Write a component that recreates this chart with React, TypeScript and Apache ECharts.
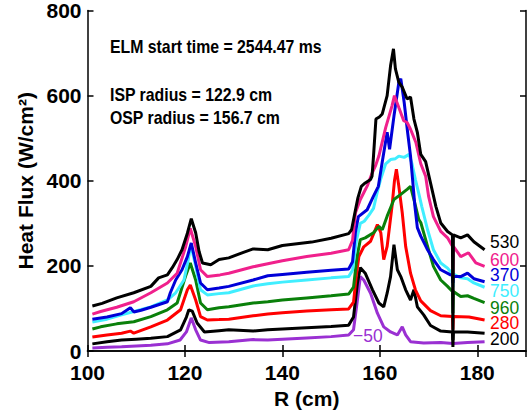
import React, { useEffect, useRef } from "react";
import * as echarts from "echarts";

const FONT = '"Liberation Sans", Arial, sans-serif';

const xTicks = [100, 120, 140, 160, 180];
const yTicks = [0, 200, 400, 600, 800];

const seriesNames = ["530", "600", "370", "750", "960", "280", "200", "−50"];
const seriesColors = ["#000000", "#f0208c", "#0000d8", "#40eeff", "#0a800a", "#ff0000", "#000000", "#9a30d2"];

const s530 = [[101,106],[103,112],[106,125],[109.5,137],[113,152],[114.6,172],[116.4,179],[117.4,196],[118.4,215],[119.4,238],[120.5,277],[121.3,311],[122.2,278],[122.9,234],[123.6,207],[125.3,203],[127,215],[129,219],[132,232],[134,240],[137,238],[140,248],[143,252],[146,256],[150,265],[153.6,276],[154.2,285],[154.8,320],[155.5,360],[156.2,387],[157,395],[158.1,403],[158.4,411],[158.7,458],[159.2,545],[159.9,550],[160.5,557],[161.5,600],[162.2,670],[162.8,710],[163.2,663],[163.9,631],[164.6,620],[165.6,592],[166.3,597],[167,545],[167.7,514],[168.4,462],[169.4,445],[170.4,395],[171.5,340],[172.5,301],[173.9,281],[174.9,273],[175,26],[175.1,273],[176.6,266],[178,273],[179.3,257],[181.5,238]];
const s600 = [[101,87],[102.7,93],[106,103],[109.5,116],[113,137],[116.4,160],[118.4,183],[120.1,243],[121.1,288],[122.2,246],[123.2,191],[124.6,175],[127.2,179],[129,183],[134,198],[137,205],[140,212],[145,222],[150,230],[153.6,238],[154.4,260],[155,325],[156,356],[156.7,372],[157.5,390],[158.3,415],[159.1,435],[159.8,458],[161.2,525],[162.5,576],[163,600],[163.9,572],[164.9,541],[165.6,537],[166.3,521],[167.4,490],[168.4,440],[169.4,411],[170,364],[171,316],[172.5,281],[173.9,266],[174.9,246],[175,175],[175.1,246],[176.6,222],[178.2,231],[179.7,207],[181.5,199]];
const s370 = [[101,75],[104,80],[107,88],[108.8,102],[109.5,92],[111,96],[113,103],[116.4,116],[117,137],[118.1,167],[119.4,191],[120.5,222],[121.3,254],[122.2,207],[123.2,160],[124.6,144],[127,148],[129,152],[134,167],[137,177],[140,180],[145,185],[150,190],[153.6,193],[154.4,210],[155,280],[155.6,316],[157.4,332],[158.7,364],[159.7,387],[160.5,445],[161.5,514],[162,474],[162.9,552],[163.9,631],[164.3,640],[165,584],[165.7,514],[166.3,458],[166.6,419],[167.2,340],[167.7,290],[168.4,270],[169.7,240],[171,215],[172.5,191],[174.5,179],[174.9,178],[175,160],[175.1,176],[176.6,175],[178,183],[179.3,170],[181.5,163]];
const s750 = [[101,68],[104,75],[107,85],[109.5,93],[113,104],[116.4,120],[118.1,137],[119.8,167],[120.6,210],[121.2,250],[122.2,200],[123.2,144],[124.6,132],[127,135],[129,137],[134,153],[137,158],[140,162],[145,167],[150,172],[153.6,175],[154.4,190],[155.2,260],[156,300],[156.8,305],[157.8,320],[158.7,335],[159.4,370],[160.2,405],[161.2,440],[162.2,450],[163.2,452],[163.9,458],[165,455],[166,462],[166.6,440],[167.3,403],[168,370],[168.6,340],[169.8,285],[171,238],[172.5,207],[173.9,195],[174.9,181],[175,150],[175.1,181],[176.6,172],[178,170],[179.3,160],[181.5,150]];
const s960 = [[101,52],[102.7,57],[106,64],[109.5,69],[113,81],[116.4,97],[118.4,113],[120.1,175],[121.1,207],[122.2,167],[123.2,113],[124.6,97],[127,102],[129,104],[134,113],[137,116],[140,120],[145,125],[150,130],[153.6,134],[154.6,150],[155.3,220],[156,262],[157,266],[158.7,278],[159.8,293],[160.5,285],[161.5,317],[162.9,356],[164.3,368],[165.6,380],[166.3,387],[167,356],[168,309],[168.4,302],[169.8,246],[171,199],[172.5,167],[173.9,152],[174.9,140],[175,89],[175.1,140],[176.6,128],[178,130],[179.3,124],[181.5,114]];
const s280 = [[101,33],[104,38],[107,42],[108.8,47],[109.5,42],[113,57],[116.4,73],[119.1,97],[120.5,144],[121.1,155],[122.2,120],[123.2,81],[124.6,73],[127,74],[129,75],[134,83],[137,87],[140,90],[145,94],[150,97],[153.6,99],[154.6,115],[155.2,180],[155.7,222],[156.7,245],[158.1,258],[159.5,297],[160.2,278],[160.8,215],[161.5,246],[162.5,340],[163,400],[163.4,427],[163.9,387],[164.6,325],[165.3,246],[166.3,183],[167.3,144],[168.4,118],[170.4,95],[172.5,83],[174.9,81],[175,50],[175.1,81],[178.3,80],[181.5,73]];
const s200 = [[101,17],[104,22],[107,26],[110,28],[113,30],[116.4,34],[119.1,50],[120.3,80],[120.8,97],[121.5,94],[122.5,66],[124,45],[127,48],[129,50],[134,47],[137,50],[140,52],[145,55],[150,58],[153.6,61],[154.6,80],[155.4,160],[156,196],[157,183],[158.5,144],[159.8,113],[160.8,104],[161.5,136],[162.2,175],[162.9,250],[163.6,191],[164.3,175],[165.3,144],[166.3,120],[167,144],[167.7,104],[169,85],[170.4,60],[172.5,47],[174.9,45],[175,10],[175.1,45],[178,45],[181.5,42]];
const sm50 = [[101,7],[104,9],[107,10],[110,12],[113,14],[116.4,17],[119,26],[120.3,45],[121.3,78],[122.2,50],[123.2,26],[125,20],[129,22],[134,27],[137,26],[140,28],[145,31],[150,34],[153.6,38],[154.6,50],[155.4,120],[156,175],[156.7,167],[158.1,136],[159.5,89],[160.8,57],[162.2,45],[163.6,38],[164.6,57],[165.3,38],[166.3,22],[169,19],[172.5,20],[175,18],[178,20],[181.5,22]];

const seriesData = [s530, s600, s370, s750, s960, s280, s200, sm50];

const annotations = ["ELM start time = 2544.47 ms", "ISP radius = 122.9 cm", "OSP radius = 156.7 cm"];

export default function App() {
  const ref = useRef<HTMLDivElement>(null);
  useEffect(() => {
    if (!ref.current) return;
    const chart = echarts.init(ref.current, null, { renderer: "svg" });
    const axisCommon = {
      axisLine: { show: true, lineStyle: { color: "#000", width: 1.5 } },
      axisTick: { show: true, inside: true, length: 6, lineStyle: { color: "#000", width: 1.5 } },
      splitLine: { show: false },
    };
    const labelStyle = { color: "#000", fontFamily: FONT, fontWeight: "bold", fontSize: 21 };
    const labelY = [241.7, 259, 274.5, 290.7, 307, 322.7, 338.3];
    chart.setOption({
      animation: false,
      grid: { left: 87.5, right: 4, top: 10, bottom: 62 },
      xAxis: [
        {
          type: "value", min: 100, max: 190, interval: 20, position: "bottom",
          ...axisCommon,
          axisLabel: { ...labelStyle, margin: 11, showMaxLabel: false,
            formatter: (v: number) => (xTicks.includes(v) ? String(v) : "") },
          name: "R (cm)", nameLocation: "middle", nameGap: 34,
          nameTextStyle: { ...labelStyle },
        },
        {
          type: "value", min: 100, max: 190, interval: 20, position: "top",
          ...axisCommon, axisLabel: { show: false },
        },
      ],
      yAxis: [
        {
          type: "value", min: 0, max: 800, interval: 200, position: "left",
          ...axisCommon,
          axisLabel: { ...labelStyle, margin: 6,
            formatter: (v: number) => (yTicks.includes(v) ? String(v) : "") },
          name: "Heat Flux (W/cm²)", nameLocation: "middle", nameRotate: 90, nameGap: 46,
          nameTextStyle: { ...labelStyle },
        },
        {
          type: "value", min: 0, max: 800, interval: 200, position: "right",
          ...axisCommon, axisLabel: { show: false },
        },
      ],
      series: seriesData.map((d, i) => ({
        type: "line",
        name: seriesNames[i],
        data: d,
        showSymbol: false,
        symbol: "none",
        lineStyle: { color: seriesColors[i], width: 3 },
        z: 10 - i,
      })),
      graphic: [
        ...annotations.map((t, i) => ({
          type: "text", x: 110, y: [46.7, 95, 118.3][i], scaleX: 0.88,
          style: { text: t, fill: "#000", font: `bold 18px ${FONT}`, verticalAlign: "middle", lineHeight: 18 },
        })),
        ...seriesNames.slice(0, 7).map((t, i) => ({
          type: "text", x: 490, y: labelY[i], scaleX: 0.92,
          style: { text: t, fill: seriesColors[i], font: `19px ${FONT}`, verticalAlign: "middle", lineHeight: 14 },
        })),
        {
          type: "text", x: 353, y: 335, scaleX: 0.92,
          style: { text: seriesNames[7], fill: seriesColors[7], font: `19px ${FONT}`, verticalAlign: "middle", lineHeight: 14 },
        },
      ],
    });
    return () => chart.dispose();
  }, []);
  return <div ref={ref} style={{ width: 530, height: 414, position: "absolute", left: 0, top: 0 }} />;
}
